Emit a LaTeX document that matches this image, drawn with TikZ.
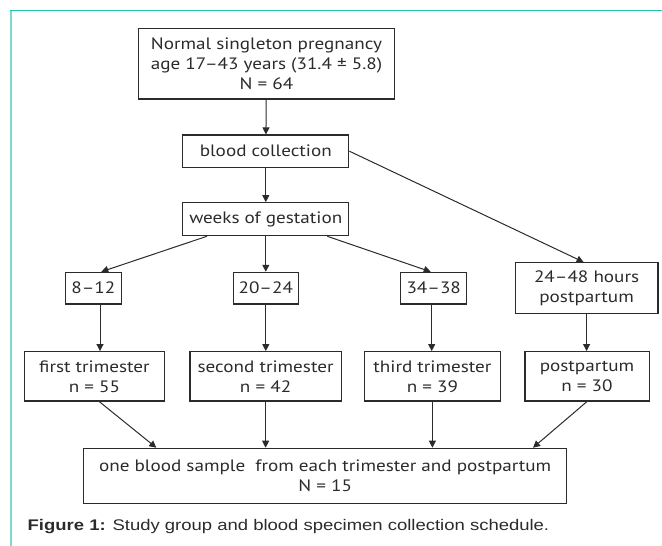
\documentclass[tikz,border=0pt]{standalone}
\usepackage{fontspec}
\setmainfont[FakeStretch=1.16]{PT Sans}
\newfontfamily\capfont[FakeStretch=1.2]{Liberation Sans}
\usetikzlibrary{arrows.meta}
\definecolor{frameteal}{HTML}{22C3AE}
\definecolor{framelight}{HTML}{7DD9CC}
\definecolor{ink}{HTML}{2B2B2B}

\begin{document}
\begin{tikzpicture}[x=1pt, y=-1pt,
    box/.style={draw=ink, line width=1.2pt, align=center, inner sep=0pt, text=ink, font=\fontsize{16.5}{20}\selectfont},
    arr/.style={draw=ink, line width=1pt, -{Triangle[length=7pt, width=7pt]}}]
            \useasboundingbox (0,0) rectangle (662,546);
            % frame of the figure
            \draw[framelight, line width=1.5pt] (11,10.3) -- (11,546);
            \draw[frameteal, line width=1.6pt] (10.25,10.3) -- (662,10.3);
            % upper boxes
            \node[box, minimum width=256pt, minimum height=70.7pt] (top) at (266.5,63.7) {Normal singleton pregnancy\\age 17–43 years (31.4 ± 5.8)\\N = 64};
            \node[box, minimum width=166pt, minimum height=32.3pt] (blood) at (265.8,151.2) {blood collection};
            \node[box, minimum width=166pt, minimum height=33pt] (weeks) at (265.8,219.2) {weeks of gestation};
            % weeks and trimesters
            \foreach \i/\x/\w/\t in {1/93.3/55.7/8–12, 2/265.8/64.6/20–24, 3/433.7/65.8/34–38}
                \node[box, minimum width=\w pt, minimum height=31.7pt] (W\i) at (\x,288.2) {\t};
            \node[box, minimum width=142.8pt, minimum height=50.6pt] (W4) at (586.6,288) {24–48 hours\\postpartum};
            \foreach \i/\x/\w/\t/\n in {1/94.4/140.6/first trimester/55, 2/265.6/151.2/second trimester/42, 3/432.4/136/third trimester/39, 4/587/124.2/postpartum/30}
                \node[box, minimum width=\w pt, minimum height=49.3pt] (T\i) at (\x,376.3) {\t\\n = \n};
            \node[box, minimum width=483pt, minimum height=55pt] (all) at (325.2,475.8) {one blood sample\ \ from each trimester and postpartum\\N = 15};
            % caption
            \node[anchor=west, inner sep=0pt, font=\capfont\fontsize{15.4}{18}\selectfont, text=ink] (cap) at (27.5,527) {\textbf{Figure 1:} Study group and blood specimen collection schedule.};
            % arrows
            \draw[arr] (top) -- (blood);
            \draw[arr] (blood) -- (weeks);
            \draw[arr] (blood.east) -- ([xshift=-3pt]W4.north);
            \draw[arr] ([xshift=-58.9pt]weeks.south) -- ([xshift=8pt]W1.north);
            \draw[arr] (weeks) -- (W2);
            \draw[arr] ([xshift=61.5pt]weeks.south) -- ([xshift=-3pt]W3.north);
            \draw[arr] ([xshift=6.7pt]W1.south) -- ([xshift=6.7pt]W1.south |- T1.north);
            \draw[arr] (W2) -- (T2.north -| W2);
            \draw[arr] ([xshift=-2pt]W3.south) -- ([xshift=-2pt]W3.south |- T3.north);
            \draw[arr] (W4) -- (T4.north -| W4);
            \draw[arr] ([xshift=4.8pt]T1.south) -- ([xshift=-168.9pt]all.north);
            \draw[arr] (T2) -- (T2 |- all.north);
            \draw[arr] (T3) -- (T3 |- all.north);
            \draw[arr] (T4.south) -- ([xshift=207.8pt]all.north);
        \end{tikzpicture}
\end{document}
